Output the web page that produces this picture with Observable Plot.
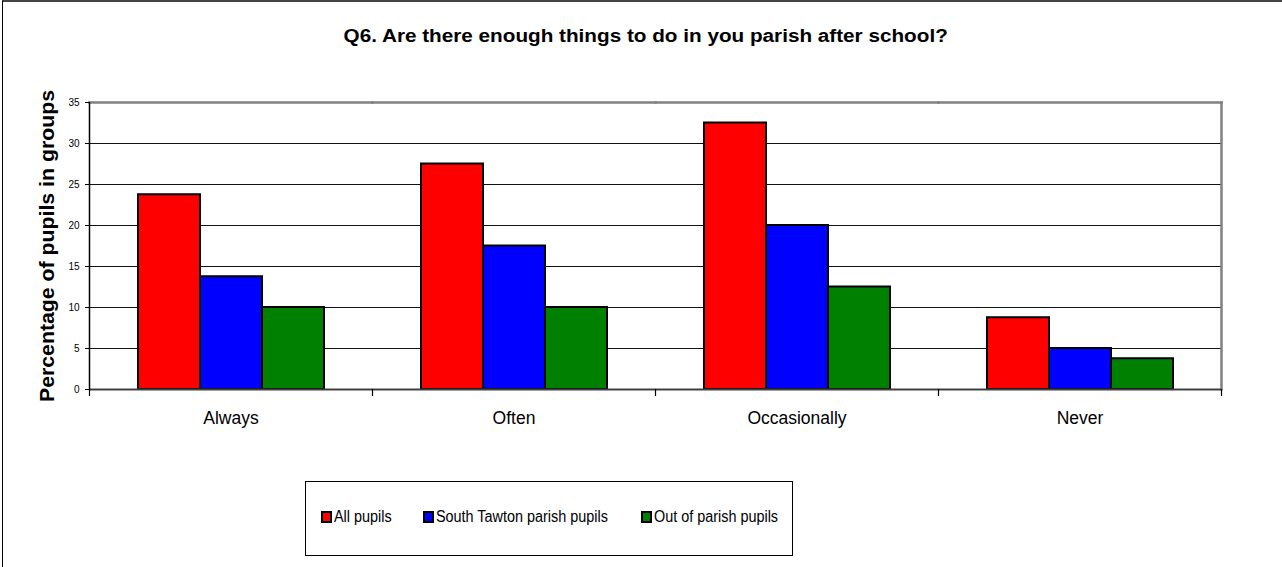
<!DOCTYPE html>
<html>
<head>
<meta charset="utf-8">
<script src="https://cdn.jsdelivr.net/npm/d3@7"></script>
<script src="https://cdn.jsdelivr.net/npm/@observablehq/plot@0.6"></script>
<style>
  html, body { margin: 0; padding: 0; background: #fff; }
  #wrap { position: relative; width: 1282px; height: 567px; overflow: hidden; font-family: "Liberation Sans", Arial, sans-serif; }
  #outer { position: absolute; left: 2px; top: 0; width: 2000px; height: 2000px; border-top: 2px solid #444; border-left: 1px solid #000; }
  #chart { position: absolute; left: 0; top: 0; }
  #title { position: absolute; left: 0; width: 1291px; top: 26px; text-align: center; font-weight: bold; font-size: 18px; color: #000; }
  #title span { display: inline-block; transform: scaleX(1.15); transform-origin: 50% 50%; }
  #legend { position: absolute; left: 305px; top: 481px; width: 488px; height: 75px; border: 1px solid #000; box-sizing: border-box; }
  .item { position: absolute; top: 26px; display: flex; align-items: center; color: #000; white-space: nowrap; }
  .item span { display: inline-block; font-size: 16px; transform: scaleX(0.9); transform-origin: 0 50%; }
  .sw { width: 7px; height: 8px; border: 2px solid #000; margin-right: 2px; }
</style>
</head>
<body>
<div id="wrap">
  <div id="outer"></div>
  <div id="chart"></div>
  <div id="title"><span>Q6. Are there enough things to do in you parish after school?</span></div>
  <div id="legend"></div>
</div>
<script>
const categories = ["Always", "Often", "Occasionally", "Never"];
const seriesNames = ["All pupils", "South Tawton parish pupils", "Out of parish pupils"];
const seriesColors = ["#FF0000", "#0000FF", "#008000"];
const allPupils = [23.75, 27.5, 32.5, 8.75];
const southTawton = [13.75, 17.5, 20, 5];
const outOfParish = [10, 10, 12.5, 3.75];
const yTicks = [0, 5, 10, 15, 20, 25, 30, 35];
const gridTicks = [5, 10, 15, 20, 25, 30];
const yLabel = "Percentage of pupils in groups";

const seriesValues = [allPupils, southTawton, outOfParish];
const data = [];
categories.forEach((c, i) => {
  seriesNames.forEach((s, j) => data.push({category: c, series: s, value: seriesValues[j][i]}));
});

const W = 1282, H = 567, mT = 102, mB = 178, mL = 89, mR = 61;
const plotH = H - mT - mB;

const chart = Plot.plot({
  width: W, height: H,
  marginTop: mT, marginBottom: mB, marginLeft: mL, marginRight: mR,
  style: {fontFamily: "'Liberation Sans', Arial, sans-serif", color: "#000", background: "transparent"},
  fx: {domain: categories, padding: 0, label: null},
  x: {domain: seriesNames, paddingInner: 0, paddingOuter: 0.75, axis: null},
  y: {domain: [0, 35], label: null},
  color: {domain: seriesNames, range: seriesColors},
  marks: [
    Plot.ruleY(gridTicks, {stroke: "#111", strokeWidth: 1}),
    Plot.frame({anchor: "top", stroke: "#808080", strokeWidth: 2.5}),
    Plot.frame({anchor: "right", facetAnchor: "right", stroke: "#808080", strokeWidth: 2.5}),
    Plot.barY(data, {fx: "category", x: "series", y: "value", fill: "series", stroke: "#000", strokeWidth: 2}),
    Plot.ruleY([0], {stroke: "#404040", strokeWidth: 2}),
    Plot.frame({anchor: "left", facetAnchor: "left", stroke: "#000", strokeWidth: 1.5}),
    Plot.frame({anchor: "left", insetTop: plotH, insetBottom: -6, stroke: "#000", strokeWidth: 1.2}),
    Plot.frame({anchor: "right", facetAnchor: "right", insetTop: plotH, insetBottom: -6, stroke: "#000", strokeWidth: 1.2}),
    Plot.axisY({ticks: yTicks, tickSize: 4, tickPadding: 6, fontSize: 10, label: yLabel, labelAnchor: "center", labelArrow: "none", labelOffset: 50}),
    Plot.axisFx({anchor: "bottom", tickSize: 0, tickPadding: 22, fontSize: 17.5, label: null})
  ]
});
document.getElementById("chart").appendChild(chart);

// style y-axis label
const labG = chart.querySelector('[aria-label="y-axis label"]');
if (labG) {
  const t = labG.tagName.toLowerCase() === "text" ? labG : labG.querySelector("text");
  if (t) {
    t.setAttribute("font-weight", "bold");
    t.setAttribute("font-size", "20");
    t.setAttribute("textLength", "312");
    t.setAttribute("lengthAdjust", "spacingAndGlyphs");
  }
}

// legend
const legend = document.getElementById("legend");
const itemLeft = [15, 117, 335];
seriesNames.forEach((s, j) => {
  const it = document.createElement("div");
  it.className = "item";
  it.style.left = itemLeft[j] + "px";
  const sw = document.createElement("div");
  sw.className = "sw";
  sw.style.background = seriesColors[j];
  const tx = document.createElement("span");
  tx.textContent = s;
  it.appendChild(sw); it.appendChild(tx);
  legend.appendChild(it);
});
</script>
</body>
</html>
